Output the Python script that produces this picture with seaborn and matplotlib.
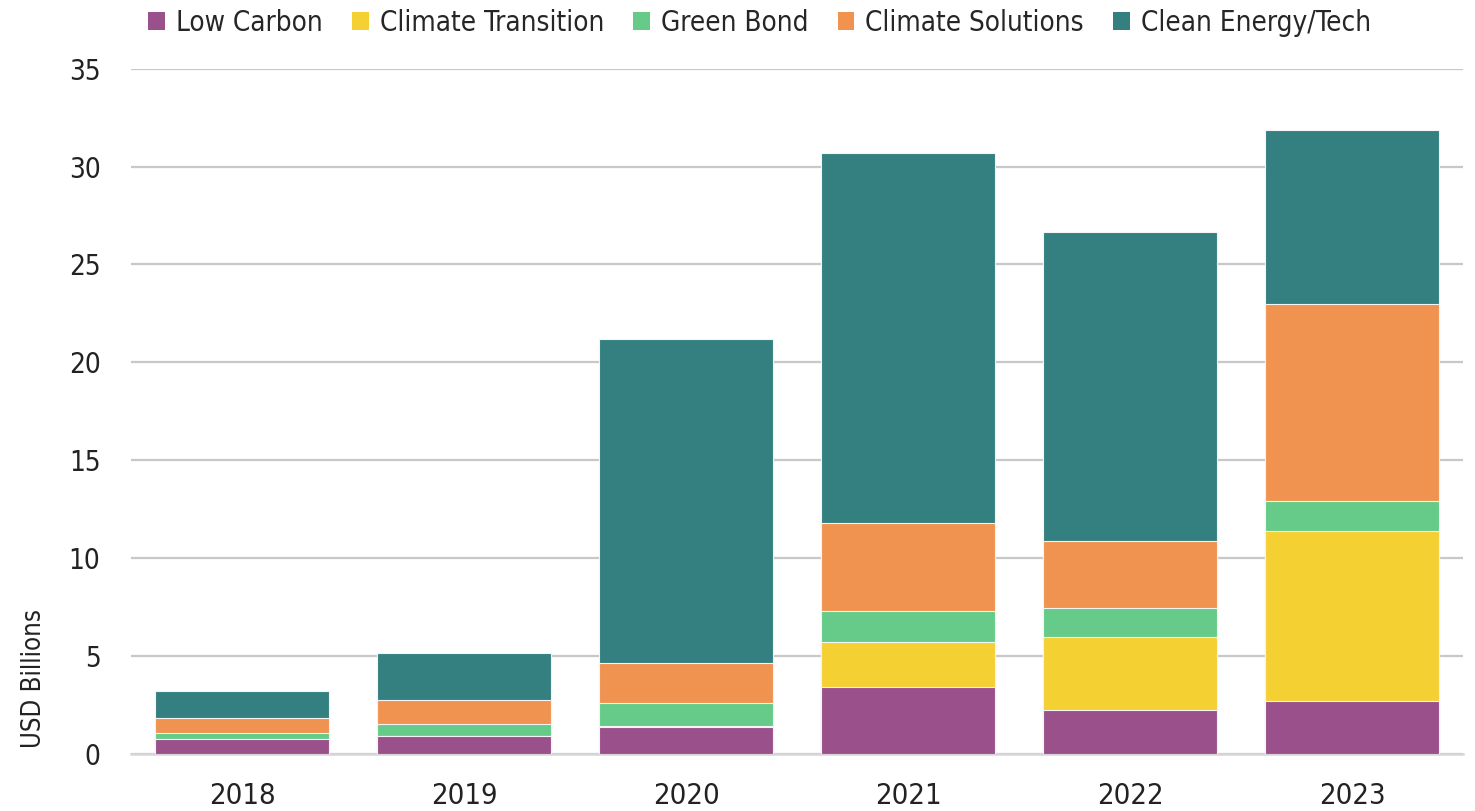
import matplotlib
matplotlib.use("Agg")
import matplotlib.pyplot as plt
from matplotlib import font_manager
from matplotlib.patches import Patch
import numpy as np
import seaborn as sns

# data (USD billions)
years = ["2018", "2019", "2020", "2021", "2022", "2023"]
low_carbon = [0.75, 0.90, 1.38, 3.41, 2.23, 2.69]
climate_transition = [0.0, 0.0, 0.05, 2.32, 3.75, 8.68]
green_bond = [0.34, 0.63, 1.16, 1.55, 1.50, 1.56]
climate_solutions = [0.75, 1.23, 2.08, 4.53, 3.39, 10.07]
clean_energy = [1.37, 2.39, 16.50, 18.86, 15.77, 8.85]

series_names = ["Low Carbon", "Climate Transition", "Green Bond",
                "Climate Solutions", "Clean Energy/Tech"]
series_colors = ["#9a508b", "#f5d033", "#66cb88", "#f09350", "#347f80"]

sns.set_style("white")
# use a condensed face if there is one installed
fonts = font_manager.fontManager.ttflist
narrow = [f for f in fonts if "condensed" in str(f.stretch).lower() or "Narrow" in f.name
          or "Condensed" in f.name]
if narrow:
    plt.rcParams["font.family"] = [narrow[0].name, "DejaVu Sans"]
    plt.rcParams["font.stretch"] = narrow[0].stretch
else:
    plt.rcParams["font.family"] = ["DejaVu Sans"]

fig = plt.figure(figsize=(14.75, 8.11), dpi=100)
ax = fig.add_axes([0.0888, 0.0703, 0.9032, 0.845])

# stacked bars: draw cumulative totals from the top down
stack = np.array([low_carbon, climate_transition, green_bond,
                  climate_solutions, clean_energy])
cum = np.cumsum(stack, axis=0)
for i in range(len(series_names) - 1, -1, -1):
    sns.barplot(x=years, y=cum[i], color=series_colors[i], width=0.785,
                saturation=1, edgecolor="#f4f4f4", linewidth=0.8, ax=ax, zorder=3)

ax.set_xlim(-0.5, 5.5)
ax.set_ylim(0, 35)
ax.set_yticks(range(0, 36, 5))
ax.grid(axis="y", color="#c8c8c8", linewidth=1.6, zorder=0)
ax.grid(axis="x", visible=False)
for s in ["top", "right", "left"]:
    ax.spines[s].set_visible(False)
ax.spines["bottom"].set_color("#d6d6d6")
ax.spines["bottom"].set_linewidth(1.8)
ax.tick_params(axis="y", length=0, pad=22, labelsize=20, labelcolor="#222222")
ax.tick_params(axis="x", length=0, pad=20, labelsize=21, labelcolor="#222222")

ax.set_xlabel("")
ax.set_ylabel("USD Billions", fontsize=18.5, color="#222222")
ax.yaxis.set_label_coords(-0.063, 0.11)

handles = [Patch(facecolor=c, edgecolor="none") for c in series_colors]
fig.legend(handles, series_names, loc="center", bbox_to_anchor=(0.515, 0.972),
           ncol=5, frameon=False, fontsize=20, handlelength=0.6, handleheight=0.65,
           handletextpad=0.4, columnspacing=1.05)

fig.savefig("out.png", dpi=100)
